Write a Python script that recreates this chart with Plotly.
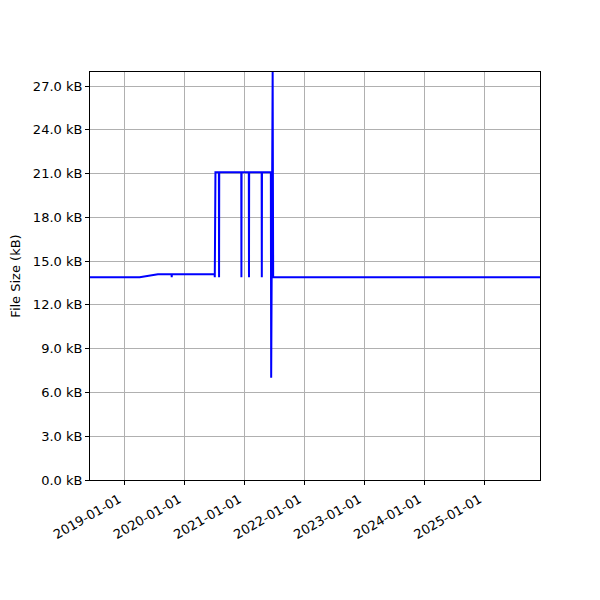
import plotly.graph_objects as go

dates = [
    "2018-06-08", "2019-04-06", "2019-07-26", "2019-10-17", "2019-10-18", "2019-10-19",
    "2020-07-05", "2020-07-06", "2020-07-10",
    "2020-07-31", "2020-08-01", "2020-08-02",
    "2020-12-14", "2020-12-15", "2020-12-16",
    "2021-01-29", "2021-01-30", "2021-01-31",
    "2021-04-17", "2021-04-18", "2021-04-19",
    "2021-06-12", "2021-06-14", "2021-06-23", "2021-06-26",
    "2025-12-05",
]
sizes_kb = [
    13.89, 13.89, 14.10, 14.10, 13.89, 14.10,
    14.10, 13.89, 21.09,
    21.09, 13.89, 21.09,
    21.09, 13.89, 21.09,
    21.09, 13.89, 21.09,
    21.09, 13.89, 21.09,
    21.09, 7.00, 27.96, 13.89,
    13.89,
]
y_ticks = [0, 3, 6, 9, 12, 15, 18, 21, 24, 27]
x_ticks = ["2019-01-01", "2020-01-01", "2021-01-01", "2022-01-01",
           "2023-01-01", "2024-01-01", "2025-01-01"]

fig = go.Figure()
fig.add_trace(go.Scatter(x=dates, y=sizes_kb, mode="lines",
                         line=dict(color="#0000ff", width=2), showlegend=False))

fig.update_layout(
    width=600, height=600,
    margin=dict(l=82, r=68, t=64, b=128, autoexpand=False),
    paper_bgcolor="white", plot_bgcolor="white",
    font=dict(family="DejaVu Sans", size=13, color="black"),
)
fig.update_xaxes(
    type="date", range=[dates[0], dates[-1]], automargin=False,
    tickvals=x_ticks, ticktext=x_ticks, tickangle=-30,
    ticklabelshift=-5, ticklabelstandoff=2,
    showgrid=True, gridcolor="#b0b0b0", gridwidth=1,
    showline=True, linecolor="black", linewidth=1, mirror=True,
    ticks="outside", ticklen=4, tickcolor="black", zeroline=False,
)
fig.update_yaxes(
    range=[0, 27.96], tickvals=y_ticks, automargin=False,
    ticktext=[f"{v:.1f} kB" for v in y_ticks],
    showgrid=True, gridcolor="#b0b0b0", gridwidth=1,
    showline=True, linecolor="black", linewidth=1, mirror=True,
    ticks="outside", ticklen=4, tickcolor="black", zeroline=False,
    title=dict(text="File Size (kB)", font=dict(size=13), standoff=10),
)
fig.write_html("out.html")
